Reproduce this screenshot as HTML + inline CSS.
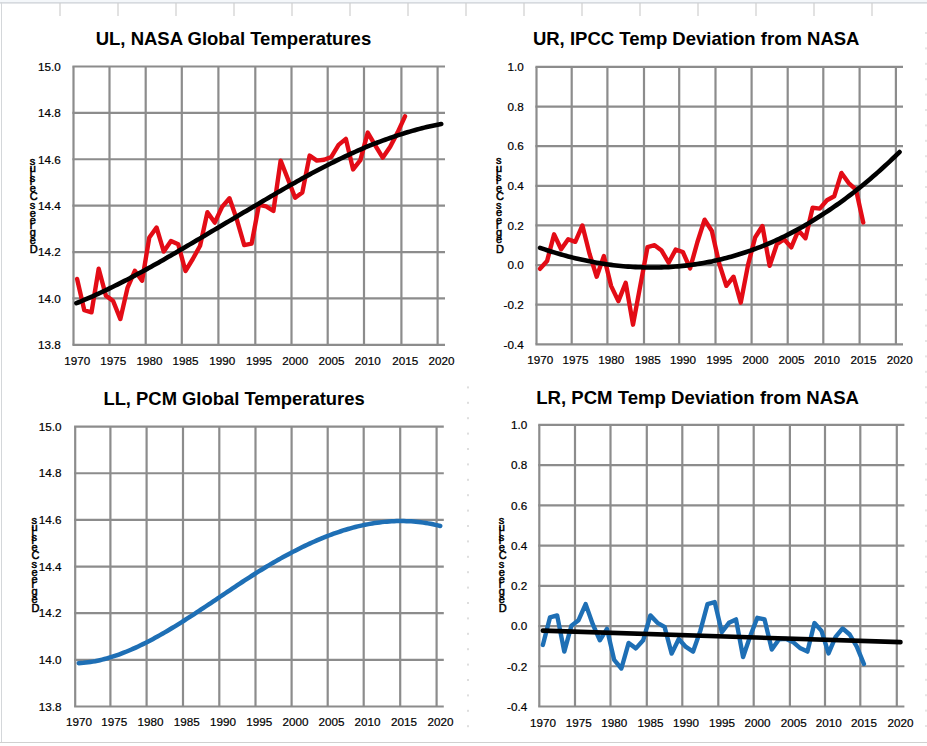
<!DOCTYPE html>
<html><head><meta charset="utf-8"><title>Temperature charts</title>
<style>
html,body{margin:0;padding:0;background:#fff;}
svg{display:block;}
text{font-family:"Liberation Sans",sans-serif;fill:#000;}
.lab{font-size:11.7px;stroke:#000;stroke-width:0.2px;}
.ttl{font-size:19px;font-weight:bold;}
.stk{font-size:11px;stroke:#000;stroke-width:0.5px;}
</style></head><body>
<svg width="927" height="746" viewBox="0 0 927 746">
<rect x="0" y="0" width="927" height="746" fill="#ffffff"/>
<rect x="0" y="0" width="927" height="2.2" fill="#f4f7fa"/>
<line x1="0" y1="2.9" x2="927" y2="2.9" stroke="#c9ced4" stroke-width="1.3"/>
<line x1="1.5" y1="2" x2="1.5" y2="742.5" stroke="#d4d7da" stroke-width="1"/>
<line x1="60.0" y1="3" x2="60.0" y2="16" stroke="#cfcfcf" stroke-width="1.2"/>
<line x1="118.0" y1="3" x2="118.0" y2="16" stroke="#cfcfcf" stroke-width="1.2"/>
<line x1="176.0" y1="3" x2="176.0" y2="16" stroke="#cfcfcf" stroke-width="1.2"/>
<line x1="234.0" y1="3" x2="234.0" y2="16" stroke="#cfcfcf" stroke-width="1.2"/>
<line x1="292.0" y1="3" x2="292.0" y2="16" stroke="#cfcfcf" stroke-width="1.2"/>
<line x1="350.0" y1="3" x2="350.0" y2="16" stroke="#cfcfcf" stroke-width="1.2"/>
<line x1="408.0" y1="3" x2="408.0" y2="16" stroke="#cfcfcf" stroke-width="1.2"/>
<line x1="466.0" y1="3" x2="466.0" y2="16" stroke="#cfcfcf" stroke-width="1.2"/>
<line x1="524.0" y1="3" x2="524.0" y2="16" stroke="#cfcfcf" stroke-width="1.2"/>
<line x1="582.0" y1="3" x2="582.0" y2="16" stroke="#cfcfcf" stroke-width="1.2"/>
<line x1="640.0" y1="3" x2="640.0" y2="16" stroke="#cfcfcf" stroke-width="1.2"/>
<line x1="698.0" y1="3" x2="698.0" y2="16" stroke="#cfcfcf" stroke-width="1.2"/>
<line x1="756.0" y1="3" x2="756.0" y2="16" stroke="#cfcfcf" stroke-width="1.2"/>
<line x1="814.0" y1="3" x2="814.0" y2="16" stroke="#cfcfcf" stroke-width="1.2"/>
<line x1="872.0" y1="3" x2="872.0" y2="16" stroke="#cfcfcf" stroke-width="1.2"/>
<line x1="0" y1="742.5" x2="927" y2="742.5" stroke="#d0d0d0" stroke-width="1"/>
<rect x="467" y="386.4" width="2" height="2" fill="#dedede"/>
<rect x="467" y="401.8" width="2" height="2" fill="#dedede"/>
<rect x="467" y="417.2" width="2" height="2" fill="#dedede"/>
<rect x="467" y="432.6" width="2" height="2" fill="#dedede"/>
<rect x="467" y="448.0" width="2" height="2" fill="#dedede"/>
<rect x="467" y="463.4" width="2" height="2" fill="#dedede"/>
<rect x="467" y="478.8" width="2" height="2" fill="#dedede"/>
<rect x="467" y="494.2" width="2" height="2" fill="#dedede"/>
<rect x="467" y="509.6" width="2" height="2" fill="#dedede"/>
<rect x="467" y="525.0" width="2" height="2" fill="#dedede"/>
<rect x="467" y="540.4" width="2" height="2" fill="#dedede"/>
<rect x="467" y="555.8" width="2" height="2" fill="#dedede"/>
<rect x="467" y="571.2" width="2" height="2" fill="#dedede"/>
<rect x="467" y="586.6" width="2" height="2" fill="#dedede"/>
<rect x="467" y="602.0" width="2" height="2" fill="#dedede"/>
<rect x="467" y="617.4" width="2" height="2" fill="#dedede"/>
<rect x="467" y="632.8" width="2" height="2" fill="#dedede"/>
<rect x="467" y="648.2" width="2" height="2" fill="#dedede"/>
<rect x="467" y="663.6" width="2" height="2" fill="#dedede"/>
<rect x="467" y="679.0" width="2" height="2" fill="#dedede"/>
<rect x="467" y="694.4" width="2" height="2" fill="#dedede"/>
<rect x="467" y="709.8" width="2" height="2" fill="#dedede"/>
<rect x="467" y="725.2" width="2" height="2" fill="#dedede"/>
<rect x="925" y="32.0" width="2" height="2" fill="#e6e6e6"/>
<rect x="925" y="47.4" width="2" height="2" fill="#e6e6e6"/>
<rect x="925" y="62.8" width="2" height="2" fill="#e6e6e6"/>
<rect x="925" y="78.2" width="2" height="2" fill="#e6e6e6"/>
<rect x="925" y="93.6" width="2" height="2" fill="#e6e6e6"/>
<rect x="925" y="109.0" width="2" height="2" fill="#e6e6e6"/>
<rect x="925" y="124.4" width="2" height="2" fill="#e6e6e6"/>
<rect x="925" y="139.8" width="2" height="2" fill="#e6e6e6"/>
<rect x="925" y="155.2" width="2" height="2" fill="#e6e6e6"/>
<rect x="925" y="170.6" width="2" height="2" fill="#e6e6e6"/>
<rect x="925" y="186.0" width="2" height="2" fill="#e6e6e6"/>
<rect x="925" y="201.4" width="2" height="2" fill="#e6e6e6"/>
<rect x="925" y="216.8" width="2" height="2" fill="#e6e6e6"/>
<rect x="925" y="232.2" width="2" height="2" fill="#e6e6e6"/>
<rect x="925" y="247.6" width="2" height="2" fill="#e6e6e6"/>
<rect x="925" y="263.0" width="2" height="2" fill="#e6e6e6"/>
<rect x="925" y="278.4" width="2" height="2" fill="#e6e6e6"/>
<rect x="925" y="293.8" width="2" height="2" fill="#e6e6e6"/>
<rect x="925" y="309.2" width="2" height="2" fill="#e6e6e6"/>
<rect x="925" y="324.6" width="2" height="2" fill="#e6e6e6"/>
<rect x="925" y="340.0" width="2" height="2" fill="#e6e6e6"/>
<rect x="925" y="355.4" width="2" height="2" fill="#e6e6e6"/>
<rect x="925" y="370.8" width="2" height="2" fill="#e6e6e6"/>
<rect x="925" y="386.2" width="2" height="2" fill="#e6e6e6"/>
<rect x="925" y="401.6" width="2" height="2" fill="#e6e6e6"/>
<rect x="925" y="417.0" width="2" height="2" fill="#e6e6e6"/>
<rect x="925" y="432.4" width="2" height="2" fill="#e6e6e6"/>
<rect x="925" y="447.8" width="2" height="2" fill="#e6e6e6"/>
<rect x="925" y="463.2" width="2" height="2" fill="#e6e6e6"/>
<rect x="925" y="478.6" width="2" height="2" fill="#e6e6e6"/>
<rect x="925" y="494.0" width="2" height="2" fill="#e6e6e6"/>
<rect x="925" y="509.4" width="2" height="2" fill="#e6e6e6"/>
<rect x="925" y="524.8" width="2" height="2" fill="#e6e6e6"/>
<rect x="925" y="540.2" width="2" height="2" fill="#e6e6e6"/>
<rect x="925" y="555.6" width="2" height="2" fill="#e6e6e6"/>
<rect x="925" y="571.0" width="2" height="2" fill="#e6e6e6"/>
<rect x="925" y="586.4" width="2" height="2" fill="#e6e6e6"/>
<rect x="925" y="601.8" width="2" height="2" fill="#e6e6e6"/>
<rect x="925" y="617.2" width="2" height="2" fill="#e6e6e6"/>
<rect x="925" y="632.6" width="2" height="2" fill="#e6e6e6"/>
<rect x="925" y="648.0" width="2" height="2" fill="#e6e6e6"/>
<rect x="925" y="663.4" width="2" height="2" fill="#e6e6e6"/>
<rect x="925" y="678.8" width="2" height="2" fill="#e6e6e6"/>
<rect x="925" y="694.2" width="2" height="2" fill="#e6e6e6"/>
<rect x="925" y="709.6" width="2" height="2" fill="#e6e6e6"/>
<rect x="925" y="725.0" width="2" height="2" fill="#e6e6e6"/>
<line x1="73.50" y1="66.50" x2="73.50" y2="344.80" stroke="#8c8c8c" stroke-width="2.2"/>
<line x1="109.50" y1="66.50" x2="109.50" y2="344.80" stroke="#8c8c8c" stroke-width="2.2"/>
<line x1="145.70" y1="66.50" x2="145.70" y2="344.80" stroke="#8c8c8c" stroke-width="2.2"/>
<line x1="181.80" y1="66.50" x2="181.80" y2="344.80" stroke="#8c8c8c" stroke-width="2.2"/>
<line x1="218.40" y1="66.50" x2="218.40" y2="344.80" stroke="#8c8c8c" stroke-width="2.2"/>
<line x1="255.30" y1="66.50" x2="255.30" y2="344.80" stroke="#8c8c8c" stroke-width="2.2"/>
<line x1="291.50" y1="66.50" x2="291.50" y2="344.80" stroke="#8c8c8c" stroke-width="2.2"/>
<line x1="327.70" y1="66.50" x2="327.70" y2="344.80" stroke="#8c8c8c" stroke-width="2.2"/>
<line x1="364.00" y1="66.50" x2="364.00" y2="344.80" stroke="#8c8c8c" stroke-width="2.2"/>
<line x1="401.40" y1="66.50" x2="401.40" y2="344.80" stroke="#8c8c8c" stroke-width="2.2"/>
<line x1="437.60" y1="66.50" x2="437.60" y2="344.80" stroke="#8c8c8c" stroke-width="2.2"/>
<line x1="72.40" y1="66.50" x2="445.00" y2="66.50" stroke="#8c8c8c" stroke-width="2.2"/>
<line x1="72.40" y1="112.88" x2="445.00" y2="112.88" stroke="#8c8c8c" stroke-width="2.2"/>
<line x1="72.40" y1="159.27" x2="445.00" y2="159.27" stroke="#8c8c8c" stroke-width="2.2"/>
<line x1="72.40" y1="205.65" x2="445.00" y2="205.65" stroke="#8c8c8c" stroke-width="2.2"/>
<line x1="72.40" y1="252.03" x2="445.00" y2="252.03" stroke="#8c8c8c" stroke-width="2.2"/>
<line x1="72.40" y1="298.42" x2="445.00" y2="298.42" stroke="#8c8c8c" stroke-width="2.2"/>
<line x1="72.40" y1="344.80" x2="445.00" y2="344.80" stroke="#8c8c8c" stroke-width="2.2"/>
<text x="60.8" y="70.7" text-anchor="end" class="lab">15.0</text>
<text x="60.8" y="117.1" text-anchor="end" class="lab">14.8</text>
<text x="60.8" y="163.5" text-anchor="end" class="lab">14.6</text>
<text x="60.8" y="209.8" text-anchor="end" class="lab">14.4</text>
<text x="60.8" y="256.2" text-anchor="end" class="lab">14.2</text>
<text x="60.8" y="302.6" text-anchor="end" class="lab">14.0</text>
<text x="60.8" y="349.0" text-anchor="end" class="lab">13.8</text>
<text x="77.3" y="365.0" text-anchor="middle" class="lab">1970</text>
<text x="113.3" y="365.0" text-anchor="middle" class="lab">1975</text>
<text x="149.5" y="365.0" text-anchor="middle" class="lab">1980</text>
<text x="185.6" y="365.0" text-anchor="middle" class="lab">1985</text>
<text x="222.2" y="365.0" text-anchor="middle" class="lab">1990</text>
<text x="259.1" y="365.0" text-anchor="middle" class="lab">1995</text>
<text x="295.3" y="365.0" text-anchor="middle" class="lab">2000</text>
<text x="331.5" y="365.0" text-anchor="middle" class="lab">2005</text>
<text x="367.8" y="365.0" text-anchor="middle" class="lab">2010</text>
<text x="405.2" y="365.0" text-anchor="middle" class="lab">2015</text>
<text x="441.4" y="365.0" text-anchor="middle" class="lab">2020</text>
<text x="95.7" y="45.2" class="ttl" textLength="275.5" lengthAdjust="spacingAndGlyphs">UL, NASA Global Temperatures</text>
<text x="29.8" y="164.5" class="stk">s</text>
<text x="29.8" y="172.3" class="stk">u</text>
<text x="29.8" y="175.7" class="stk">i</text>
<text x="29.8" y="181.5" class="stk">s</text>
<text x="29.8" y="184.9" class="stk">l</text>
<text x="29.8" y="192.3" class="stk">e</text>
<text x="29.8" y="200.2" class="stk">C</text>
<text x="29.8" y="209.4" class="stk">s</text>
<text x="29.8" y="216.8" class="stk">e</text>
<text x="29.8" y="224.2" class="stk">e</text>
<text x="29.8" y="229.4" class="stk">r</text>
<text x="29.8" y="236.4" class="stk">g</text>
<text x="29.8" y="243.8" class="stk">e</text>
<text x="29.8" y="253.0" class="stk">D</text>
<line x1="536.50" y1="66.90" x2="536.50" y2="344.30" stroke="#8c8c8c" stroke-width="2.2"/>
<line x1="571.70" y1="66.90" x2="571.70" y2="344.30" stroke="#8c8c8c" stroke-width="2.2"/>
<line x1="607.40" y1="66.90" x2="607.40" y2="344.30" stroke="#8c8c8c" stroke-width="2.2"/>
<line x1="644.00" y1="66.90" x2="644.00" y2="344.30" stroke="#8c8c8c" stroke-width="2.2"/>
<line x1="679.20" y1="66.90" x2="679.20" y2="344.30" stroke="#8c8c8c" stroke-width="2.2"/>
<line x1="715.50" y1="66.90" x2="715.50" y2="344.30" stroke="#8c8c8c" stroke-width="2.2"/>
<line x1="751.60" y1="66.90" x2="751.60" y2="344.30" stroke="#8c8c8c" stroke-width="2.2"/>
<line x1="787.70" y1="66.90" x2="787.70" y2="344.30" stroke="#8c8c8c" stroke-width="2.2"/>
<line x1="823.30" y1="66.90" x2="823.30" y2="344.30" stroke="#8c8c8c" stroke-width="2.2"/>
<line x1="859.60" y1="66.90" x2="859.60" y2="344.30" stroke="#8c8c8c" stroke-width="2.2"/>
<line x1="895.90" y1="66.90" x2="895.90" y2="344.30" stroke="#8c8c8c" stroke-width="2.2"/>
<line x1="535.40" y1="66.90" x2="903.00" y2="66.90" stroke="#8c8c8c" stroke-width="2.2"/>
<line x1="535.40" y1="106.53" x2="903.00" y2="106.53" stroke="#8c8c8c" stroke-width="2.2"/>
<line x1="535.40" y1="146.16" x2="903.00" y2="146.16" stroke="#8c8c8c" stroke-width="2.2"/>
<line x1="535.40" y1="185.79" x2="903.00" y2="185.79" stroke="#8c8c8c" stroke-width="2.2"/>
<line x1="535.40" y1="225.41" x2="903.00" y2="225.41" stroke="#8c8c8c" stroke-width="2.2"/>
<line x1="535.40" y1="265.04" x2="903.00" y2="265.04" stroke="#8c8c8c" stroke-width="2.2"/>
<line x1="535.40" y1="304.67" x2="903.00" y2="304.67" stroke="#8c8c8c" stroke-width="2.2"/>
<line x1="535.40" y1="344.30" x2="903.00" y2="344.30" stroke="#8c8c8c" stroke-width="2.2"/>
<text x="523.7" y="71.1" text-anchor="end" class="lab">1.0</text>
<text x="523.7" y="110.7" text-anchor="end" class="lab">0.8</text>
<text x="523.7" y="150.4" text-anchor="end" class="lab">0.6</text>
<text x="523.7" y="190.0" text-anchor="end" class="lab">0.4</text>
<text x="523.7" y="229.6" text-anchor="end" class="lab">0.2</text>
<text x="523.7" y="269.2" text-anchor="end" class="lab">0.0</text>
<text x="523.7" y="308.9" text-anchor="end" class="lab">-0.2</text>
<text x="523.7" y="348.5" text-anchor="end" class="lab">-0.4</text>
<text x="540.3" y="364.4" text-anchor="middle" class="lab">1970</text>
<text x="575.5" y="364.4" text-anchor="middle" class="lab">1975</text>
<text x="611.2" y="364.4" text-anchor="middle" class="lab">1980</text>
<text x="647.8" y="364.4" text-anchor="middle" class="lab">1985</text>
<text x="683.0" y="364.4" text-anchor="middle" class="lab">1990</text>
<text x="719.3" y="364.4" text-anchor="middle" class="lab">1995</text>
<text x="755.4" y="364.4" text-anchor="middle" class="lab">2000</text>
<text x="791.5" y="364.4" text-anchor="middle" class="lab">2005</text>
<text x="827.1" y="364.4" text-anchor="middle" class="lab">2010</text>
<text x="863.4" y="364.4" text-anchor="middle" class="lab">2015</text>
<text x="899.7" y="364.4" text-anchor="middle" class="lab">2020</text>
<text x="532.9" y="45.3" class="ttl" textLength="326.6" lengthAdjust="spacingAndGlyphs">UR, IPCC Temp Deviation from NASA</text>
<text x="496.0" y="164.0" class="stk">s</text>
<text x="496.0" y="171.8" class="stk">u</text>
<text x="496.0" y="175.2" class="stk">i</text>
<text x="496.0" y="181.0" class="stk">s</text>
<text x="496.0" y="184.4" class="stk">l</text>
<text x="496.0" y="191.8" class="stk">e</text>
<text x="496.0" y="199.7" class="stk">C</text>
<text x="496.0" y="208.9" class="stk">s</text>
<text x="496.0" y="216.3" class="stk">e</text>
<text x="496.0" y="223.7" class="stk">e</text>
<text x="496.0" y="228.9" class="stk">r</text>
<text x="496.0" y="235.9" class="stk">g</text>
<text x="496.0" y="243.3" class="stk">e</text>
<text x="496.0" y="252.5" class="stk">D</text>
<line x1="75.20" y1="426.60" x2="75.20" y2="706.50" stroke="#8c8c8c" stroke-width="2.2"/>
<line x1="110.40" y1="426.60" x2="110.40" y2="706.50" stroke="#8c8c8c" stroke-width="2.2"/>
<line x1="146.60" y1="426.60" x2="146.60" y2="706.50" stroke="#8c8c8c" stroke-width="2.2"/>
<line x1="183.00" y1="426.60" x2="183.00" y2="706.50" stroke="#8c8c8c" stroke-width="2.2"/>
<line x1="219.30" y1="426.60" x2="219.30" y2="706.50" stroke="#8c8c8c" stroke-width="2.2"/>
<line x1="255.50" y1="426.60" x2="255.50" y2="706.50" stroke="#8c8c8c" stroke-width="2.2"/>
<line x1="291.60" y1="426.60" x2="291.60" y2="706.50" stroke="#8c8c8c" stroke-width="2.2"/>
<line x1="327.70" y1="426.60" x2="327.70" y2="706.50" stroke="#8c8c8c" stroke-width="2.2"/>
<line x1="363.70" y1="426.60" x2="363.70" y2="706.50" stroke="#8c8c8c" stroke-width="2.2"/>
<line x1="400.20" y1="426.60" x2="400.20" y2="706.50" stroke="#8c8c8c" stroke-width="2.2"/>
<line x1="436.60" y1="426.60" x2="436.60" y2="706.50" stroke="#8c8c8c" stroke-width="2.2"/>
<line x1="74.10" y1="426.60" x2="443.80" y2="426.60" stroke="#8c8c8c" stroke-width="2.2"/>
<line x1="74.10" y1="473.25" x2="443.80" y2="473.25" stroke="#8c8c8c" stroke-width="2.2"/>
<line x1="74.10" y1="519.90" x2="443.80" y2="519.90" stroke="#8c8c8c" stroke-width="2.2"/>
<line x1="74.10" y1="566.55" x2="443.80" y2="566.55" stroke="#8c8c8c" stroke-width="2.2"/>
<line x1="74.10" y1="613.20" x2="443.80" y2="613.20" stroke="#8c8c8c" stroke-width="2.2"/>
<line x1="74.10" y1="659.85" x2="443.80" y2="659.85" stroke="#8c8c8c" stroke-width="2.2"/>
<line x1="74.10" y1="706.50" x2="443.80" y2="706.50" stroke="#8c8c8c" stroke-width="2.2"/>
<text x="61.5" y="430.8" text-anchor="end" class="lab">15.0</text>
<text x="61.5" y="477.4" text-anchor="end" class="lab">14.8</text>
<text x="61.5" y="524.1" text-anchor="end" class="lab">14.6</text>
<text x="61.5" y="570.8" text-anchor="end" class="lab">14.4</text>
<text x="61.5" y="617.4" text-anchor="end" class="lab">14.2</text>
<text x="61.5" y="664.1" text-anchor="end" class="lab">14.0</text>
<text x="61.5" y="710.7" text-anchor="end" class="lab">13.8</text>
<text x="79.0" y="726.4" text-anchor="middle" class="lab">1970</text>
<text x="114.2" y="726.4" text-anchor="middle" class="lab">1975</text>
<text x="150.4" y="726.4" text-anchor="middle" class="lab">1980</text>
<text x="186.8" y="726.4" text-anchor="middle" class="lab">1985</text>
<text x="223.1" y="726.4" text-anchor="middle" class="lab">1990</text>
<text x="259.3" y="726.4" text-anchor="middle" class="lab">1995</text>
<text x="295.4" y="726.4" text-anchor="middle" class="lab">2000</text>
<text x="331.5" y="726.4" text-anchor="middle" class="lab">2005</text>
<text x="367.5" y="726.4" text-anchor="middle" class="lab">2010</text>
<text x="404.0" y="726.4" text-anchor="middle" class="lab">2015</text>
<text x="440.4" y="726.4" text-anchor="middle" class="lab">2020</text>
<text x="103.4" y="404.8" class="ttl" textLength="261.3" lengthAdjust="spacingAndGlyphs">LL, PCM Global Temperatures</text>
<text x="31.5" y="523.5" class="stk">s</text>
<text x="31.5" y="531.3" class="stk">u</text>
<text x="31.5" y="534.7" class="stk">i</text>
<text x="31.5" y="540.5" class="stk">s</text>
<text x="31.5" y="543.9" class="stk">l</text>
<text x="31.5" y="551.3" class="stk">e</text>
<text x="31.5" y="559.2" class="stk">C</text>
<text x="31.5" y="568.4" class="stk">s</text>
<text x="31.5" y="575.8" class="stk">e</text>
<text x="31.5" y="583.2" class="stk">e</text>
<text x="31.5" y="588.4" class="stk">r</text>
<text x="31.5" y="595.4" class="stk">g</text>
<text x="31.5" y="602.9" class="stk">e</text>
<text x="31.5" y="612.0" class="stk">D</text>
<line x1="539.30" y1="424.90" x2="539.30" y2="706.50" stroke="#8c8c8c" stroke-width="2.2"/>
<line x1="575.00" y1="424.90" x2="575.00" y2="706.50" stroke="#8c8c8c" stroke-width="2.2"/>
<line x1="610.50" y1="424.90" x2="610.50" y2="706.50" stroke="#8c8c8c" stroke-width="2.2"/>
<line x1="646.80" y1="424.90" x2="646.80" y2="706.50" stroke="#8c8c8c" stroke-width="2.2"/>
<line x1="682.30" y1="424.90" x2="682.30" y2="706.50" stroke="#8c8c8c" stroke-width="2.2"/>
<line x1="718.30" y1="424.90" x2="718.30" y2="706.50" stroke="#8c8c8c" stroke-width="2.2"/>
<line x1="753.70" y1="424.90" x2="753.70" y2="706.50" stroke="#8c8c8c" stroke-width="2.2"/>
<line x1="789.90" y1="424.90" x2="789.90" y2="706.50" stroke="#8c8c8c" stroke-width="2.2"/>
<line x1="825.00" y1="424.90" x2="825.00" y2="706.50" stroke="#8c8c8c" stroke-width="2.2"/>
<line x1="860.30" y1="424.90" x2="860.30" y2="706.50" stroke="#8c8c8c" stroke-width="2.2"/>
<line x1="896.80" y1="424.90" x2="896.80" y2="706.50" stroke="#8c8c8c" stroke-width="2.2"/>
<line x1="538.20" y1="424.90" x2="904.40" y2="424.90" stroke="#8c8c8c" stroke-width="2.2"/>
<line x1="538.20" y1="465.13" x2="904.40" y2="465.13" stroke="#8c8c8c" stroke-width="2.2"/>
<line x1="538.20" y1="505.36" x2="904.40" y2="505.36" stroke="#8c8c8c" stroke-width="2.2"/>
<line x1="538.20" y1="545.59" x2="904.40" y2="545.59" stroke="#8c8c8c" stroke-width="2.2"/>
<line x1="538.20" y1="585.81" x2="904.40" y2="585.81" stroke="#8c8c8c" stroke-width="2.2"/>
<line x1="538.20" y1="626.04" x2="904.40" y2="626.04" stroke="#8c8c8c" stroke-width="2.2"/>
<line x1="538.20" y1="666.27" x2="904.40" y2="666.27" stroke="#8c8c8c" stroke-width="2.2"/>
<line x1="538.20" y1="706.50" x2="904.40" y2="706.50" stroke="#8c8c8c" stroke-width="2.2"/>
<text x="527.2" y="429.1" text-anchor="end" class="lab">1.0</text>
<text x="527.2" y="469.3" text-anchor="end" class="lab">0.8</text>
<text x="527.2" y="509.6" text-anchor="end" class="lab">0.6</text>
<text x="527.2" y="549.8" text-anchor="end" class="lab">0.4</text>
<text x="527.2" y="590.0" text-anchor="end" class="lab">0.2</text>
<text x="527.2" y="630.2" text-anchor="end" class="lab">0.0</text>
<text x="527.2" y="670.5" text-anchor="end" class="lab">-0.2</text>
<text x="527.2" y="710.7" text-anchor="end" class="lab">-0.4</text>
<text x="543.1" y="727.0" text-anchor="middle" class="lab">1970</text>
<text x="578.8" y="727.0" text-anchor="middle" class="lab">1975</text>
<text x="614.3" y="727.0" text-anchor="middle" class="lab">1980</text>
<text x="650.6" y="727.0" text-anchor="middle" class="lab">1985</text>
<text x="686.1" y="727.0" text-anchor="middle" class="lab">1990</text>
<text x="722.1" y="727.0" text-anchor="middle" class="lab">1995</text>
<text x="757.5" y="727.0" text-anchor="middle" class="lab">2000</text>
<text x="793.7" y="727.0" text-anchor="middle" class="lab">2005</text>
<text x="828.8" y="727.0" text-anchor="middle" class="lab">2010</text>
<text x="864.1" y="727.0" text-anchor="middle" class="lab">2015</text>
<text x="900.6" y="727.0" text-anchor="middle" class="lab">2020</text>
<text x="536.2" y="403.5" class="ttl" textLength="322.8" lengthAdjust="spacingAndGlyphs">LR, PCM Temp Deviation from NASA</text>
<text x="498.8" y="523.5" class="stk">s</text>
<text x="498.8" y="531.3" class="stk">u</text>
<text x="498.8" y="534.7" class="stk">i</text>
<text x="498.8" y="540.5" class="stk">s</text>
<text x="498.8" y="543.9" class="stk">l</text>
<text x="498.8" y="551.3" class="stk">e</text>
<text x="498.8" y="559.2" class="stk">C</text>
<text x="498.8" y="568.4" class="stk">s</text>
<text x="498.8" y="575.8" class="stk">e</text>
<text x="498.8" y="583.2" class="stk">e</text>
<text x="498.8" y="588.4" class="stk">r</text>
<text x="498.8" y="595.4" class="stk">g</text>
<text x="498.8" y="602.9" class="stk">e</text>
<text x="498.8" y="612.0" class="stk">D</text>
<polyline points="77.10,278.94 84.30,310.24 91.50,312.33 98.70,268.73 105.90,295.63 113.12,300.97 120.36,319.06 127.60,287.52 134.84,270.82 142.08,280.79 149.31,237.42 156.53,227.45 163.75,251.57 170.97,240.90 178.19,244.15 185.46,271.05 192.78,258.99 200.10,245.77 207.42,212.14 214.74,222.58 222.09,206.81 229.47,198.23 236.85,219.57 244.23,245.08 251.61,243.68 258.92,204.95 266.16,206.35 273.40,210.98 280.64,160.66 287.88,178.98 295.12,197.76 302.36,192.43 309.60,155.56 316.84,160.66 324.08,159.73 331.33,156.95 338.59,144.89 345.85,138.86 353.11,169.47 360.37,160.19 367.74,132.60 375.22,145.35 382.70,157.64 390.18,146.74 397.66,132.36 405.02,116.36" fill="none" stroke="#e30c16" stroke-width="4.4" stroke-linejoin="round" stroke-linecap="round"/>
<polyline points="76.38,303.23 78.78,302.25 81.19,301.25 83.59,300.24 86.00,299.21 88.40,298.17 90.81,297.11 93.21,296.04 95.62,294.95 98.02,293.85 100.43,292.74 102.83,291.62 105.24,290.48 107.64,289.32 110.05,288.16 112.47,286.98 114.89,285.79 117.30,284.59 119.72,283.38 122.14,282.16 124.56,280.92 126.98,279.68 129.40,278.42 131.81,277.15 134.23,275.88 136.65,274.59 139.07,273.30 141.49,271.99 143.90,270.68 146.32,269.36 148.73,268.03 151.14,266.69 153.56,265.34 155.97,263.99 158.38,262.63 160.79,261.26 163.20,259.88 165.61,258.50 168.02,257.11 170.44,255.72 172.85,254.32 175.26,252.91 177.67,251.50 180.08,250.09 182.50,248.66 184.95,247.24 187.39,245.81 189.84,244.38 192.28,242.94 194.73,241.50 197.17,240.05 199.62,238.61 202.06,237.16 204.51,235.71 206.95,234.25 209.40,232.80 211.84,231.34 214.29,229.88 216.73,228.42 219.18,226.96 221.65,225.49 224.11,224.03 226.58,222.57 229.04,221.11 231.51,219.65 233.97,218.19 236.44,216.73 238.90,215.27 241.37,213.81 243.83,212.35 246.30,210.90 248.76,209.45 251.23,208.00 253.69,206.55 256.14,205.11 258.56,203.67 260.98,202.23 263.39,200.80 265.81,199.37 268.23,197.95 270.65,196.53 273.07,195.11 275.49,193.70 277.90,192.30 280.32,190.90 282.74,189.51 285.16,188.12 287.58,186.74 289.99,185.36 292.41,184.00 294.83,182.64 297.25,181.28 299.67,179.94 302.08,178.60 304.50,177.27 306.92,175.95 309.34,174.64 311.76,173.34 314.18,172.05 316.59,170.76 319.01,169.49 321.43,168.23 323.85,166.97 326.27,165.73 328.69,164.50 331.11,163.28 333.54,162.07 335.96,160.87 338.39,159.68 340.81,158.51 343.24,157.34 345.66,156.19 348.09,155.06 350.51,153.93 352.94,152.82 355.36,151.73 357.79,150.65 360.21,149.58 362.64,148.52 365.09,147.48 367.59,146.46 370.09,145.45 372.59,144.46 375.09,143.48 377.58,142.52 380.08,141.57 382.58,140.64 385.08,139.73 387.58,138.83 390.08,137.96 392.57,137.10 395.07,136.25 397.57,135.43 400.07,134.62 402.53,133.83 404.95,133.06 407.37,132.32 409.78,131.58 412.20,130.87 414.62,130.18 417.04,129.51 419.46,128.86 421.87,128.23 424.29,127.62 426.71,127.03 429.13,126.47 431.55,125.92 433.97,125.40 436.38,124.90 438.80,124.42 441.22,123.97" fill="none" stroke="#000000" stroke-width="4.6" stroke-linejoin="round" stroke-linecap="round"/>
<polyline points="540.02,268.81 547.06,261.08 554.10,234.33 561.14,249.19 568.18,239.28 575.27,241.86 582.41,225.41 589.55,253.95 596.69,276.73 603.83,256.13 611.06,285.85 618.38,301.10 625.70,282.88 633.02,324.68 640.34,285.45 647.52,247.01 654.56,245.23 661.60,250.58 668.64,262.67 675.68,249.59 682.83,251.97 690.09,268.41 697.35,242.26 704.61,219.67 711.87,230.96 719.11,263.26 726.33,285.85 733.55,276.73 740.77,302.69 747.99,265.04 755.21,237.30 762.43,226.01 769.65,265.84 776.87,244.24 784.09,239.28 791.26,247.41 798.38,230.37 805.50,238.29 812.62,207.78 819.74,208.57 826.93,200.25 834.19,196.29 841.45,172.91 848.71,183.01 855.97,189.55 863.23,222.44" fill="none" stroke="#e30c16" stroke-width="4.4" stroke-linejoin="round" stroke-linecap="round"/>
<polyline points="540.02,247.83 542.37,248.63 544.71,249.42 547.06,250.19 549.41,250.95 551.75,251.69 554.10,252.41 556.45,253.12 558.79,253.81 561.14,254.49 563.49,255.15 565.83,255.80 568.18,256.42 570.53,257.04 572.89,257.63 575.27,258.21 577.65,258.77 580.03,259.32 582.41,259.85 584.79,260.36 587.17,260.86 589.55,261.33 591.93,261.79 594.31,262.24 596.69,262.67 599.07,263.07 601.45,263.47 603.83,263.84 606.21,264.20 608.62,264.54 611.06,264.86 613.50,265.16 615.94,265.45 618.38,265.72 620.82,265.97 623.26,266.20 625.70,266.42 628.14,266.61 630.58,266.79 633.02,266.95 635.46,267.09 637.90,267.21 640.34,267.32 642.78,267.40 645.17,267.47 647.52,267.51 649.87,267.54 652.21,267.55 654.56,267.54 656.91,267.51 659.25,267.47 661.60,267.40 663.95,267.31 666.29,267.20 668.64,267.08 670.99,266.93 673.33,266.77 675.68,266.58 678.03,266.38 680.41,266.15 682.83,265.91 685.25,265.64 687.67,265.36 690.09,265.05 692.51,264.73 694.93,264.38 697.35,264.01 699.77,263.63 702.19,263.22 704.61,262.79 707.03,262.34 709.45,261.87 711.87,261.38 714.29,260.86 716.70,260.33 719.11,259.78 721.52,259.20 723.92,258.60 726.33,257.98 728.74,257.34 731.14,256.68 733.55,256.00 735.96,255.29 738.36,254.57 740.77,253.82 743.18,253.05 745.58,252.25 747.99,251.44 750.40,250.60 752.80,249.74 755.21,248.86 757.62,247.95 760.02,247.03 762.43,246.08 764.84,245.10 767.24,244.11 769.65,243.09 772.06,242.05 774.46,240.98 776.87,239.90 779.28,238.79 781.68,237.65 784.09,236.50 786.50,235.32 788.89,234.11 791.26,232.89 793.63,231.63 796.01,230.36 798.38,229.06 800.75,227.74 803.13,226.39 805.50,225.02 807.87,223.63 810.25,222.21 812.62,220.77 814.99,219.30 817.37,217.81 819.74,216.29 822.11,214.75 824.51,213.19 826.93,211.60 829.35,209.98 831.77,208.34 834.19,206.68 836.61,204.99 839.03,203.28 841.45,201.54 843.87,199.77 846.29,197.98 848.71,196.16 851.13,194.32 853.55,192.46 855.97,190.56 858.39,188.64 860.81,186.70 863.23,184.73 865.65,182.73 868.07,180.71 870.49,178.66 872.91,176.59 875.33,174.49 877.75,172.36 880.17,170.21 882.59,168.03 885.01,165.82 887.43,163.59 889.85,161.33 892.27,159.04 894.69,156.73 897.11,154.39 899.53,152.02" fill="none" stroke="#000000" stroke-width="4.6" stroke-linejoin="round" stroke-linecap="round"/>
<polyline points="78.72,663.14 81.07,663.01 83.41,662.83 85.76,662.59 88.11,662.31 90.45,661.98 92.80,661.60 95.15,661.18 97.49,660.70 99.84,660.18 102.19,659.62 104.53,659.02 106.88,658.37 109.23,657.68 111.61,656.94 114.02,656.17 116.43,655.36 118.85,654.51 121.26,653.63 123.67,652.71 126.09,651.75 128.50,650.76 130.91,649.73 133.33,648.67 135.74,647.58 138.15,646.46 140.57,645.31 142.98,644.13 145.39,642.92 147.81,641.69 150.24,640.43 152.67,639.14 155.09,637.83 157.52,636.49 159.95,635.14 162.37,633.76 164.80,632.36 167.23,630.94 169.65,629.50 172.08,628.04 174.51,626.57 176.93,625.08 179.36,623.57 181.79,622.05 184.21,620.52 186.63,618.97 189.05,617.41 191.47,615.84 193.89,614.26 196.31,612.68 198.73,611.08 201.15,609.48 203.57,607.87 205.99,606.25 208.41,604.63 210.83,603.01 213.25,601.38 215.67,599.76 218.09,598.13 220.51,596.50 222.92,594.87 225.33,593.25 227.75,591.63 230.16,590.01 232.57,588.39 234.99,586.79 237.40,585.18 239.81,583.59 242.23,582.00 244.64,580.43 247.05,578.86 249.47,577.30 251.88,575.76 254.29,574.23 256.70,572.71 259.11,571.21 261.52,569.72 263.92,568.25 266.33,566.79 268.74,565.35 271.14,563.92 273.55,562.51 275.96,561.12 278.36,559.74 280.77,558.39 283.18,557.05 285.58,555.73 287.99,554.42 290.40,553.14 292.80,551.88 295.21,550.63 297.62,549.41 300.02,548.21 302.43,547.02 304.84,545.86 307.24,544.72 309.65,543.61 312.06,542.51 314.46,541.44 316.87,540.39 319.28,539.37 321.68,538.36 324.09,537.39 326.50,536.43 328.90,535.51 331.30,534.60 333.70,533.73 336.10,532.87 338.50,532.05 340.90,531.25 343.30,530.48 345.70,529.74 348.10,529.02 350.50,528.33 352.90,527.67 355.30,527.04 357.70,526.44 360.10,525.87 362.50,525.33 364.92,524.82 367.35,524.34 369.78,523.89 372.22,523.47 374.65,523.09 377.08,522.73 379.52,522.41 381.95,522.12 384.38,521.87 386.82,521.65 389.25,521.46 391.68,521.31 394.12,521.19 396.55,521.11 398.98,521.06 401.41,521.05 403.84,521.07 406.27,521.13 408.69,521.23 411.12,521.36 413.55,521.54 415.97,521.75 418.40,522.00 420.83,522.28 423.25,522.61 425.68,522.98 428.11,523.38 430.53,523.83 432.96,524.32 435.39,524.84 437.81,525.41 440.24,526.02" fill="none" stroke="#1e6fb5" stroke-width="4.5" stroke-linejoin="round" stroke-linecap="round"/>
<polyline points="542.87,644.95 550.01,617.39 557.15,615.38 564.29,651.59 571.43,625.64 578.55,620.21 585.65,604.12 592.75,624.23 599.85,640.32 606.95,628.86 614.13,659.83 621.39,668.48 628.65,642.94 635.91,648.37 643.17,640.32 650.35,615.38 657.45,622.82 664.55,626.85 671.65,653.60 678.75,638.92 685.90,646.96 693.10,651.59 700.30,630.87 707.50,604.12 714.70,602.11 721.84,632.28 728.92,622.82 736.00,619.41 743.08,657.02 750.16,636.30 757.32,617.80 764.56,619.41 771.80,649.58 779.04,639.32 786.28,638.92 793.41,642.34 800.43,648.37 807.45,651.59 814.47,623.03 821.49,630.87 828.53,653.40 835.59,636.90 842.65,628.46 849.71,634.49 856.77,646.56 863.95,664.06" fill="none" stroke="#1e6fb5" stroke-width="4.4" stroke-linejoin="round" stroke-linecap="round"/>
<polyline points="542.87,630.67 900.45,642.13" fill="none" stroke="#000000" stroke-width="4.6" stroke-linejoin="round" stroke-linecap="round"/>
</svg>
</body></html>
